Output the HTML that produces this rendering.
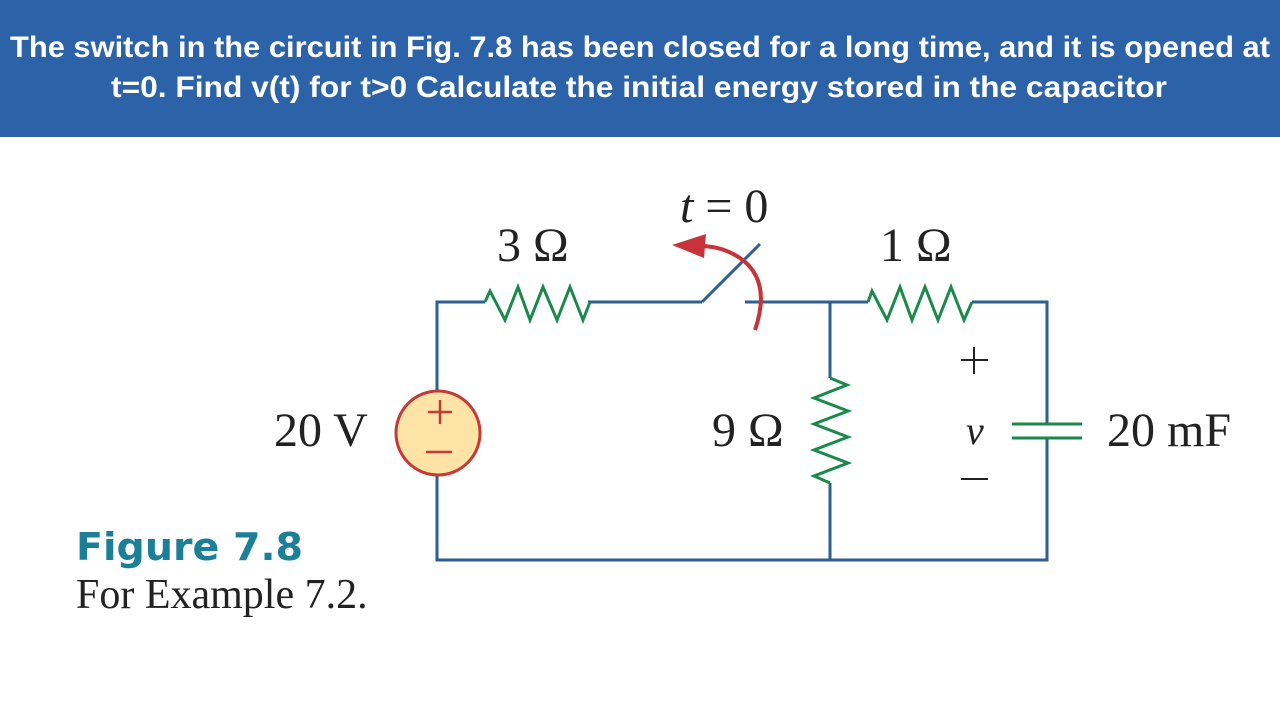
<!DOCTYPE html>
<html><head><meta charset="utf-8"><style>
html,body{margin:0;padding:0;background:#fff;}
svg{display:block}
</style></head><body>
<svg width="1280" height="720" viewBox="0 0 1280 720" xmlns="http://www.w3.org/2000/svg">
<rect x="0" y="0" width="1280" height="137" fill="#2c62a8"/>
<g font-family="Liberation Sans, sans-serif" font-weight="bold" font-size="30" fill="#fff">
<text x="10" y="57" textLength="1260" lengthAdjust="spacingAndGlyphs">The switch in the circuit in Fig. 7.8 has been closed for a long time, and it is opened at</text>
<text x="111" y="97" textLength="1056" lengthAdjust="spacingAndGlyphs">t=0. Find v(t) for t&gt;0 Calculate the initial energy stored in the capacitor</text>
</g>
<g fill="none" stroke="#2e5f93" stroke-width="3">
<polyline points="485,302 437,302 437,391"/>
<polyline points="437,475 437,560 1047,560 1047,438"/>
<polyline points="1047,424 1047,302 972,302"/>
<line x1="588" y1="302" x2="702" y2="302"/>
<line x1="702" y1="302" x2="760" y2="244"/>
<line x1="745" y1="302" x2="868" y2="302"/>
<polyline points="830,302 830,378"/>
<polyline points="830,483 830,560"/>
</g>
<g fill="none" stroke="#1a8a4a" stroke-width="3" stroke-linejoin="miter">
<polyline points="485,302 490,291 505,320 518,287 530,320 543,287 557,320 570,287 583,320 590,302"/>
<polyline points="868,302 872,291 887,320 900,287 912,320 925,287 938,320 951,287 964,320 972,302"/>
<polyline points="830,378 847,385 814,398 848,411 814,424 848,437 814,450 848,463 814,476 830,483"/>
<line x1="1012" y1="424" x2="1082" y2="424"/>
<line x1="1012" y1="438" x2="1082" y2="438"/>
</g>
<path d="M755,330 Q772,280 740,258 Q722,246 700,246" fill="none" stroke="#c8333a" stroke-width="4"/>
<polygon points="672,245 706,234 704,258" fill="#c8333a"/>
<circle cx="438" cy="433" r="42" fill="#fde4a6" stroke="#c53a36" stroke-width="3"/>
<g stroke="#c53a36" stroke-width="2.5">
<line x1="428" y1="412" x2="452" y2="412"/><line x1="440" y1="400" x2="440" y2="424"/>
<line x1="426" y1="452" x2="452" y2="452"/>
</g>
<g font-family="Liberation Serif, serif" font-size="48" fill="#222">
<text x="274" y="446">20 V</text>
<text x="497" y="261">3 Ω</text>
<text x="880" y="261">1 Ω</text>
<text x="712" y="446">9 Ω</text>
<text x="1107" y="446">20 mF</text>
<text x="680" y="222"><tspan font-style="italic">t</tspan> = 0</text>
<text x="966" y="444" font-style="italic" font-size="40">v</text>
</g>
<g stroke="#222" stroke-width="2">
<line x1="961" y1="360" x2="988" y2="360"/><line x1="974" y1="347" x2="974" y2="374"/>
<line x1="961" y1="479" x2="988" y2="479"/>
</g>
<text x="76" y="560" font-family="DejaVu Sans, sans-serif" font-weight="bold" font-size="38" fill="#1b7f98" textLength="227" lengthAdjust="spacingAndGlyphs">Figure 7.8</text>
<text x="76" y="608" font-family="Liberation Serif, serif" font-size="42" fill="#222">For Example 7.2.</text>
</svg>
</body></html>
